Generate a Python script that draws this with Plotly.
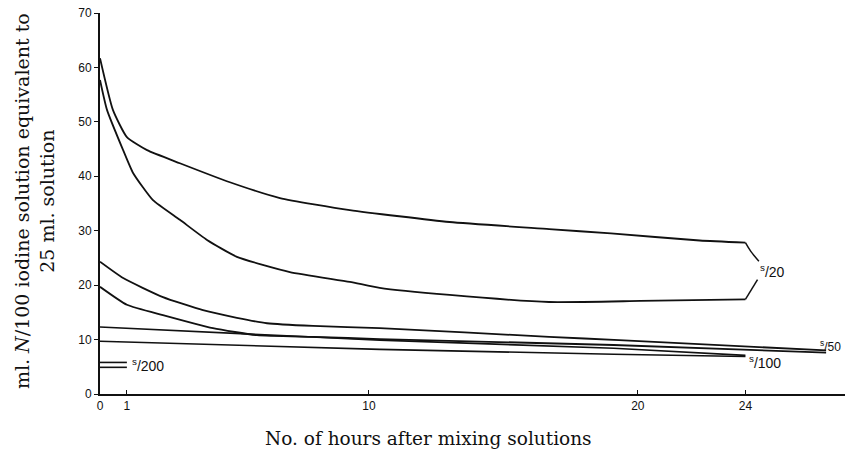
import plotly.graph_objects as go

# --- data (hours, ml) ---
a20_h = [0, 0.48, 1.0, 1.75, 2.97, 4.83, 6.69, 9.29, 13.0, 16.7, 19.0, 22.3, 24]
a20_v = [61.7, 52.2, 47.2, 44.8, 42.4, 38.9, 36.0, 33.8, 31.6, 30.3, 29.5, 28.2, 27.8]
b20_h = [0, 0.26, 0.86, 1.23, 1.97, 2.97, 3.98, 5.09, 7.06, 9.29, 10.4, 13.0, 16.7, 20.1, 24]
b20_v = [57.7, 52.2, 44.8, 40.6, 35.6, 32.0, 28.3, 25.2, 22.4, 20.6, 19.5, 18.2, 16.9, 17.1, 17.4]
a50_h = [0, 0.86, 2.34, 3.83, 5.09, 6.21, 7.92, 10.4, 16.7, 19.3, 27.0]
a50_v = [24.3, 21.3, 17.8, 15.4, 14.0, 13.0, 12.5, 12.1, 10.5, 9.9, 8.0]
b50_h = [0, 1.0, 2.34, 4.2, 5.84, 7.92, 10.4, 19.1, 27.0]
b50_v = [19.7, 16.4, 14.5, 12.1, 10.8, 10.5, 10.1, 9.0, 7.6]
a100_h = [0, 10.4, 19.1, 24]
a100_v = [12.3, 9.9, 8.4, 7.1]
b100_h = [0, 10.4, 19.1, 24]
b100_v = [9.7, 8.2, 7.3, 6.9]
a200_h = [0, 1.0]
a200_v = [5.8, 5.8]
b200_h = [0, 1.0]
b200_v = [4.9, 4.9]

x_ticks = [0, 1, 10, 20, 24]
y_ticks = [0, 10, 20, 30, 40, 50, 60, 70]

BLACK = "#111"
fig = go.Figure()


def curve(h, v, w=1.8, shape="spline"):
    fig.add_trace(go.Scatter(x=h, y=v, mode="lines",
                             line=dict(color=BLACK, width=w, shape=shape, smoothing=0.5),
                             showlegend=False, hoverinfo="skip"))


for h, v in [(a20_h, a20_v), (b20_h, b20_v), (a50_h, a50_v), (b50_h, b50_v)]:
    curve(h, v)
for h, v in [(a100_h, a100_v), (b100_h, b100_v), (a200_h, a200_v), (b200_h, b200_v)]:
    curve(h, v, w=1.6, shape="linear")

# bracket joining the N/20 pair to its label, derived from the curve ends
mid20 = (a20_v[-1] + b20_v[-1]) / 2
fig.add_trace(go.Scatter(x=[a20_h[-1], a20_h[-1] + 0.2, a20_h[-1] + 0.5],
                         y=[a20_v[-1], a20_v[-1] - 1.6, mid20 + 1.8], mode="lines",
                         line=dict(color=BLACK, width=1.5, shape="spline"),
                         showlegend=False, hoverinfo="skip"))
fig.add_trace(go.Scatter(x=[b20_h[-1], b20_h[-1] + 0.45],
                         y=[b20_v[-1], mid20 - 1.6], mode="lines",
                         line=dict(color=BLACK, width=1.5), showlegend=False, hoverinfo="skip"))

lab_font = dict(family="Liberation Sans, Arial", size=14, color=BLACK)
fig.add_annotation(x=a20_h[-1] + 0.45, y=mid20, text="<sup>s</sup>/20", showarrow=False,
                   xanchor="left", yanchor="middle", font=lab_font)
fig.add_annotation(x=a50_h[-1] - 0.3, y=a50_v[-1] + 0.9, text="<sup>s</sup>/50",
                   showarrow=False, xanchor="left", yanchor="middle",
                   font=dict(family="Liberation Sans, Arial", size=12, color=BLACK))
fig.add_annotation(x=a100_h[-1] + 0.05, y=b100_v[-1] - 1.0, text="<sup>s</sup>/100",
                   showarrow=False, xanchor="left", yanchor="middle", font=lab_font)
fig.add_annotation(x=a200_h[-1] + 0.1, y=(a200_v[0] + b200_v[0]) / 2, text="<sup>s</sup>/200",
                   showarrow=False, xanchor="left", yanchor="middle", font=lab_font)

fig.add_annotation(xref="paper", yref="paper", x=-0.086, y=0.507, textangle=-90,
                   text="ml. <i>N</i>/100 iodine solution equivalent to<br>25 ml. solution",
                   showarrow=False, xanchor="center", yanchor="middle",
                   font=dict(family="DejaVu Serif", size=19, color=BLACK))
fig.add_annotation(xref="paper", yref="paper", x=0.436, y=-0.118,
                   text="No. of hours after mixing solutions",
                   showarrow=False, xanchor="center", yanchor="middle",
                   font=dict(family="DejaVu Serif", size=18.5, color=BLACK))

tick_font = dict(family="Liberation Sans, Arial", size=12, color=BLACK)
fig.update_xaxes(range=[0, 28], tickvals=x_ticks, ticktext=[str(t) for t in x_ticks],
                 showgrid=False, zeroline=False, showline=True, linecolor=BLACK, linewidth=1.8,
                 ticks="inside", ticklen=4, tickcolor=BLACK, tickfont=tick_font, automargin=False)
fig.update_yaxes(range=[0, 70], tickvals=y_ticks, ticktext=[str(t) for t in y_ticks],
                 showgrid=False, zeroline=False, showline=True, linecolor=BLACK, linewidth=2,
                 ticks="outside", ticklen=4, tickcolor=BLACK, tickfont=tick_font, automargin=False,
                 ticklabeloverflow="allow")
# the page body adds an 8px offset, so the figure is shifted to line up with the window
fig.update_layout(width=845, height=443, margin=dict(l=92, r=0, t=5, b=57),
                  plot_bgcolor="white", paper_bgcolor="white")
fig.write_html("out.html")
